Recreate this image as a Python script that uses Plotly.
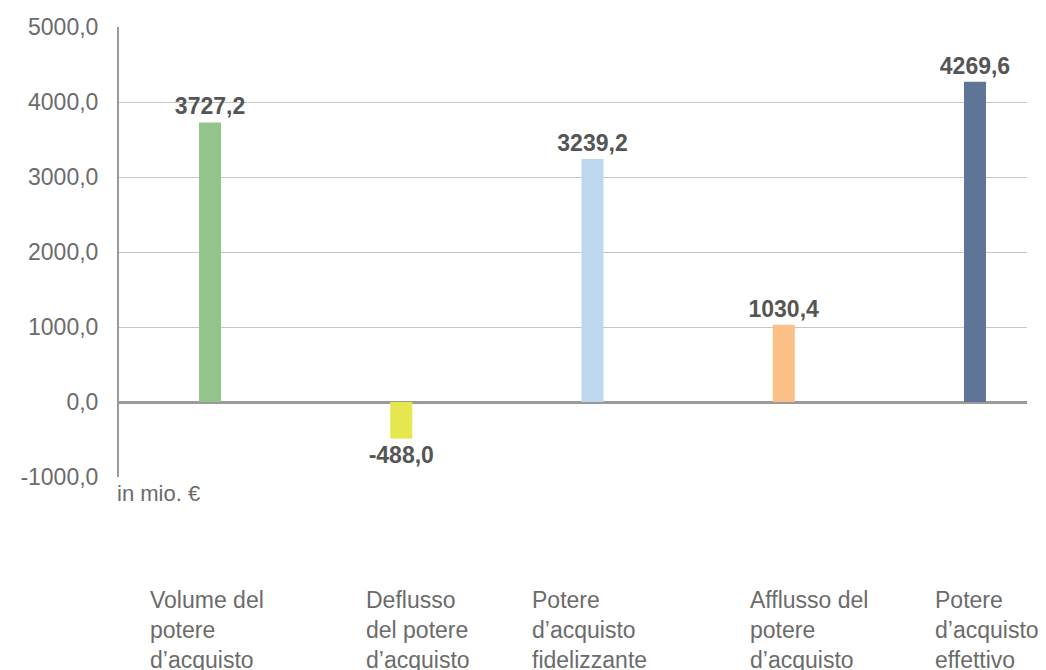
import plotly.graph_objects as go

categories = [
    "Volume del<br>potere<br>d’acquisto",
    "Deflusso<br>del potere<br>d’acquisto",
    "Potere<br>d’acquisto<br>fidelizzante",
    "Afflusso del<br>potere<br>d’acquisto",
    "Potere<br>d’acquisto<br>effettivo",
]
values = [3727.2, -488.0, 3239.2, 1030.4, 4269.6]
colors = ["#93c48b", "#e6e64f", "#bdd7ee", "#fbc085", "#5f7598"]
tick_values = [-1000, 0, 1000, 2000, 3000, 4000, 5000]


def fmt(v):
    return f"{v:.1f}".replace(".", ",")


value_labels = [fmt(v) for v in values]
tick_labels = [fmt(v) for v in tick_values]

# horizontal nudge of each category caption (style only)
caption_shift = [-3, 17, -3, 25, 12]

FONT = "Liberation Sans, Arial, sans-serif"
GREY = "#6b6b6b"

fig = go.Figure()
fig.add_trace(go.Bar(
    x=categories,
    y=values,
    marker=dict(color=colors, line=dict(width=0)),
    width=0.115,
    text=value_labels,
    texttemplate="<b>%{text}</b>",
    textposition="outside",
    constraintext="none",
    textfont=dict(family=FONT, size=23, color="#555555"),
    cliponaxis=False,
    hoverinfo="skip",
))

for cat, dx in zip(categories, caption_shift):
    fig.add_annotation(
        x=cat, xref="x", y=-0.241, yref="paper",
        text=cat, showarrow=False, align="left",
        xanchor="center", yanchor="top", xshift=dx,
        font=dict(family=FONT, size=23, color=GREY),
    )

fig.add_annotation(
    x=0, xref="paper", y=-0.005, yref="paper",
    text="in mio. €", showarrow=False, align="left",
    xanchor="left", yanchor="top", xshift=-4,
    font=dict(family=FONT, size=22, color=GREY),
)

fig.update_layout(
    width=1046, height=670,
    margin=dict(l=111, r=27, t=19, b=201, autoexpand=False),
    paper_bgcolor="white", plot_bgcolor="white",
    showlegend=False,
    font=dict(family=FONT, color=GREY),
)
fig.update_xaxes(
    type="category",
    range=[-0.476, 4.272],
    showticklabels=False,
    showgrid=False,
    showline=False,
    zeroline=False,
    ticks="",
)
fig.update_yaxes(
    range=[-1000, 5000],
    tickvals=tick_values,
    ticktext=tick_labels,
    tickfont=dict(family=FONT, size=23, color=GREY),
    showgrid=True, gridcolor="#c6c6c6", gridwidth=1,
    zeroline=True, zerolinecolor="#9a9a9a", zerolinewidth=2.5,
    showline=True, linecolor="#9a9a9a", linewidth=2,
    ticks="outside", ticklen=14, tickcolor="rgba(0,0,0,0)",
)

fig.write_html("out.html")
